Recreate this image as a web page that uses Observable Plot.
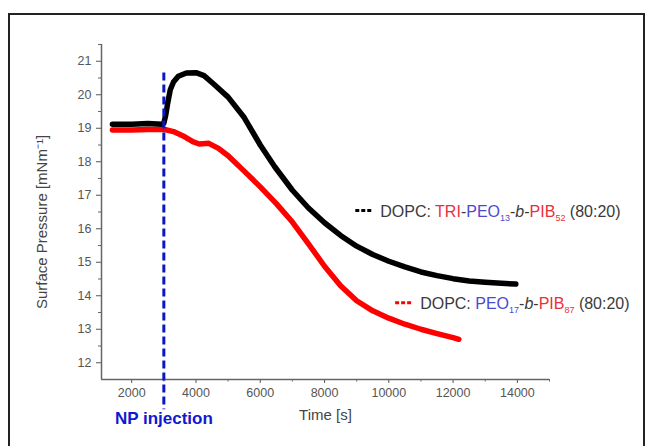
<!DOCTYPE html>
<html><head><meta charset="utf-8">
<script src="https://cdn.jsdelivr.net/npm/d3@7"></script>
<script src="https://cdn.jsdelivr.net/npm/@observablehq/plot@0.6"></script>
<style>
body{margin:0;background:#fff;}
#wrap{position:relative;width:646px;height:446px;overflow:hidden;background:#fff}
#frame{position:absolute;left:8px;top:13px;width:637px;height:450px;border:2px solid #222;box-sizing:border-box}
#wrap svg{position:absolute;left:0;top:0}
</style></head><body><div id="wrap"><div id="frame"></div></div>
<script>
// Series: DOPC : TRI-PEO13-b-PIB52 (80:20)  (black)
const blackTime = [1400, 2000, 2500, 2950, 3000, 3060, 3120, 3200, 3300, 3450, 3700, 4000, 4250, 4550, 5000, 5500, 6000, 6450, 7000, 7500, 8000, 8500, 9000, 9500, 10000, 10500, 11000, 11500, 12000, 12500, 13000, 13500, 13950];
const blackPressure = [19.12, 19.12, 19.14, 19.12, 19.15, 19.4, 19.75, 20.15, 20.38, 20.55, 20.65, 20.66, 20.57, 20.32, 19.93, 19.32, 18.5, 17.85, 17.15, 16.62, 16.18, 15.8, 15.48, 15.23, 15.03, 14.86, 14.71, 14.6, 14.51, 14.44, 14.4, 14.37, 14.35];
// Series: DOPC : PEO17-b-PIB87 (80:20)  (red)
const redTime = [1400, 2000, 2500, 3000, 3300, 3600, 3900, 4100, 4400, 4700, 5000, 5500, 6000, 6500, 7000, 7500, 8000, 8500, 9000, 9500, 10000, 10500, 11000, 11500, 12000, 12180];
const redPressure = [18.95, 18.95, 18.96, 18.97, 18.9, 18.77, 18.6, 18.53, 18.55, 18.4, 18.18, 17.72, 17.25, 16.75, 16.2, 15.55, 14.88, 14.3, 13.85, 13.55, 13.33, 13.15, 13.0, 12.87, 12.75, 12.7];

const xTicks = [2000, 4000, 6000, 8000, 10000, 12000, 14000];
const xMinor = [3000, 5000, 7000, 9000, 11000, 13000, 15000];
const yTicks = [12, 13, 14, 15, 16, 17, 18, 19, 20, 21];
const yMinor = [12.5, 13.5, 14.5, 15.5, 16.5, 17.5, 18.5, 19.5, 20.5, 21.5];
const xDomain = [1060, 15000];
const yDomain = [11.5, 21.5];
const injectionTime = 3000;
const injectionSpan = [20.65, 10.6];
const injectionLabel = "NP injection";
const xLabel = "Time [s]";
const yLabel = "Surface Pressure [mNm\u207B\u00B9]";

const black = blackTime.map((t, i) => ({t, p: blackPressure[i]}));
const red = redTime.map((t, i) => ({t, p: redPressure[i]}));

const axisColor = "#666";
const chart = Plot.plot({
  width: 646, height: 446,
  marginLeft: 101, marginRight: 97, marginTop: 44, marginBottom: 67,
  style: {fontFamily: "'Liberation Sans', Arial, sans-serif", fontSize: "12.5px", color: "#555", background: "transparent", overflow: "visible"},
  x: {domain: xDomain, ticks: xTicks, tickFormat: "d", tickSize: 4, tickPadding: 5, label: null},
  y: {domain: yDomain, ticks: yTicks, tickFormat: "d", tickSize: 5, tickPadding: 5, label: null},
  marks: [
    Plot.ruleY([yDomain[0]], {stroke: axisColor, strokeWidth: 1.5}),
    Plot.ruleX([xDomain[0]], {stroke: axisColor, strokeWidth: 1.5}),
    Plot.ruleX(xMinor, {x: d => d, y1: yDomain[0], y2: yDomain[0], insetBottom: -2.5, stroke: axisColor}),
    Plot.ruleY(yMinor, {y: d => d, x1: xDomain[0], x2: xDomain[0], insetLeft: -3, stroke: axisColor}),
    Plot.line(red, {x: "t", y: "p", stroke: "#ff0000", strokeWidth: 5.5, strokeLinejoin: "round"}),
    Plot.line(black, {x: "t", y: "p", stroke: "#000", strokeWidth: 5.5, strokeLinejoin: "round"}),
    Plot.ruleX([injectionTime], {y1: injectionSpan[0], y2: injectionSpan[1], stroke: "#0b16c8", strokeWidth: 3, strokeDasharray: "8,4"}),
    Plot.text([injectionLabel], {x: injectionTime, y: 10.17, text: d => d, fill: "#1018d0", fontSize: 17, fontWeight: "bold", textAnchor: "middle", lineAnchor: "bottom"}),
    Plot.text([xLabel], {frameAnchor: "bottom", text: d => d, dy: 40, lineAnchor: "bottom", fontSize: 15, fill: "#444"}),
    Plot.text([yLabel], {frameAnchor: "left", text: d => d, rotate: -90, dx: -59, dy: 10, textAnchor: "middle", fontSize: 15, fill: "#444"})
  ]
});
document.getElementById("wrap").appendChild(chart);

// Legend (rich text: coloured segments with subscripts), placed via the plot's scales
const sx = chart.scale("x"), sy = chart.scale("y");
const legends = [
  {t: 9750, p: 16.35, color: "#000", parts: [["DOPC: ", "#3a3a3a"], ["TRI", "#e8303a"], ["-", "#3a3a3a"], ["PEO", "#4a4ad0"], ["13", "#4a4ad0", "sub"], ["-", "#3a3a3a"], ["b", "#3a3a3a", "it"], ["-", "#3a3a3a"], ["PIB", "#e8303a"], ["52", "#e8303a", "sub"], [" (80:20)", "#3a3a3a"]]},
  {t: 10990, p: 13.6, color: "#ff0000", parts: [["DOPC: ", "#3a3a3a"], ["PEO", "#4a4ad0"], ["17", "#4a4ad0", "sub"], ["-", "#3a3a3a"], ["b", "#3a3a3a", "it"], ["-", "#3a3a3a"], ["PIB", "#e8303a"], ["87", "#e8303a", "sub"], [" (80:20)", "#3a3a3a"]]}
];
const svg = d3.select(chart);
const lg = svg.append("g").attr("font-family", "'Liberation Sans', Arial, sans-serif").attr("text-anchor", "start");
for (const L of legends) {
  const x0 = sx.apply(L.t), y0 = sy.apply(L.p);
  lg.append("line").attr("x1", x0 - 25).attr("x2", x0 - 7).attr("y1", y0 - 6).attr("y2", y0 - 6)
    .attr("stroke", L.color).attr("stroke-width", 3).attr("stroke-dasharray", "4,2");
  const tx = lg.append("text").attr("x", x0).attr("y", y0).attr("font-size", 16).attr("text-anchor", "start");
  let prevSub = false;
  for (const [s, c, kind] of L.parts) {
    const ts = tx.append("tspan").attr("fill", c).text(s);
    if (kind === "sub") { ts.attr("font-size", 9).attr("dy", 4); prevSub = true; }
    else { if (prevSub) ts.attr("dy", -4); prevSub = false; }
    if (kind === "it") ts.attr("font-style", "italic");
  }
}
</script></body></html>
